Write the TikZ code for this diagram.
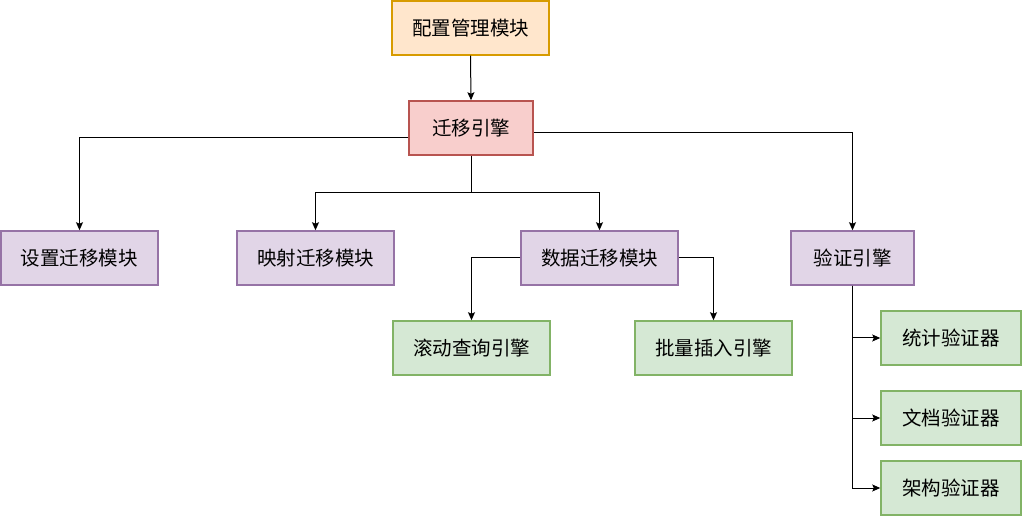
\documentclass[tikz,border=0pt]{standalone}
\usepackage{fontspec}
\newfontfamily\cjk{Noto Sans CJK SC}
\usetikzlibrary{arrows.meta}
\definecolor{orf}{HTML}{FFE6CC}\definecolor{ors}{HTML}{D79B00}
\definecolor{ref}{HTML}{F8CECC}\definecolor{res}{HTML}{B85450}
\definecolor{puf}{HTML}{E1D5E7}\definecolor{pus}{HTML}{9673A6}
\definecolor{grf}{HTML}{D5E8D4}\definecolor{grs}{HTML}{82B366}
\tikzset{
  box/.style={draw, line width=1.5bp, minimum height=54bp, inner sep=0pt, font=\cjk\fontsize{19.5bp}{23bp}\selectfont},
  orbox/.style={box, fill=orf, draw=ors},
  rebox/.style={box, fill=ref, draw=res},
  pubox/.style={box, fill=puf, draw=pus},
  grbox/.style={box, fill=grf, draw=grs},
  conn/.style={draw=black, line width=1bp, -{Stealth[length=8bp,width=7bp,inset=1.5bp]}},
  plain/.style={draw=black, line width=1bp}
}
\begin{document}
\begin{tikzpicture}[x=1bp,y=-1bp]
\useasboundingbox (0,0) rectangle (1022,516);
\node[orbox, minimum width=157bp] (cfg) at (470.5,28) {配置管理模块};
\node[rebox, minimum width=124bp] (eng) at (471,128) {迁移引擎};
\node[pubox, minimum width=157bp] (setm) at (79.5,258) {设置迁移模块};
\node[pubox, minimum width=157bp] (mapm) at (315.5,258) {映射迁移模块};
\node[pubox, minimum width=157bp] (datam) at (599.5,258) {数据迁移模块};
\node[pubox, minimum width=123bp] (vale) at (852.5,258) {验证引擎};
\node[grbox, minimum width=157bp] (scroll) at (471.5,348) {滚动查询引擎};
\node[grbox, minimum width=157bp] (bulk) at (713.5,348) {批量插入引擎};
\node[grbox, minimum width=140bp] (v1) at (951,338) {统计验证器};
\node[grbox, minimum width=140bp] (v2) at (951,418) {文档验证器};
\node[grbox, minimum width=140bp] (v3) at (951,488) {架构验证器};
\draw[conn] (cfg.south) -- (eng.north);
\draw[conn] ([yshift=-10bp]eng.west) -| (setm.north);
\draw[conn] ([yshift=-5bp]eng.east) -| (vale.north);
\coordinate (j) at (eng.south |- 0,193);
\draw[plain] (eng.south) -- (j);
\draw[conn] (j) -| (mapm.north);
\draw[conn] (j) -| (datam.north);
\draw[conn] (datam.west) -| (scroll.north);
\draw[conn] (datam.east) -| (bulk.north);
\draw[conn] (vale.south) |- (v1.west);
\draw[conn] (vale.south) |- (v2.west);
\draw[conn] (vale.south) |- (v3.west);
\end{tikzpicture}
\end{document}
